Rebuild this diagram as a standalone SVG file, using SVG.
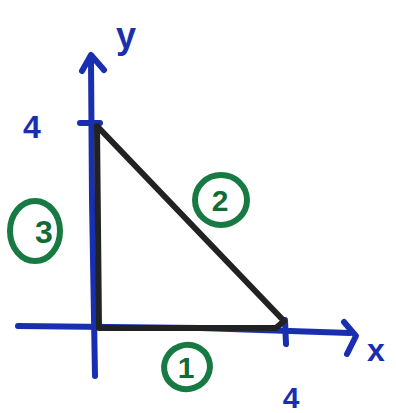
<svg xmlns="http://www.w3.org/2000/svg" width="396" height="413" viewBox="0 0 396 413">
<style>
.ax{fill:none;stroke:#1a2fb0;stroke-width:6;stroke-linecap:round;stroke-linejoin:round}
.tri{fill:none;stroke:#222;stroke-width:6;stroke-linecap:round;stroke-linejoin:round}
.ring{fill:none;stroke:#177a42;stroke-width:6}
.lb{font-family:"Liberation Sans",Arial,sans-serif;font-weight:bold;fill:#1a2fb0;text-anchor:middle}
.num{font-family:"Liberation Sans",Arial,sans-serif;font-weight:bold;fill:#126b36;text-anchor:middle}
</style>
<rect width="396" height="413" fill="#fff"/>
<g id="axes">
<path class="ax" d="M95 376 L92 200 L91 60"/>
<path class="ax" d="M82 71 L91 55 L104 70"/>
<path class="ax" d="M80 123 L100 123"/>
<path class="ax" d="M18 326 L200 328 L350 333"/>
<path class="ax" d="M344 322 L356 336 L347 354"/>
<path class="ax" d="M285 320 L286 344"/>
</g>
<g id="triangle">
<path class="tri" d="M97 126 L284 321 L276 328 L99 328 Z"/>
</g>
<g id="labels">
<text class="lb" x="126" y="48" font-size="36">y</text>
<text class="lb" x="32" y="138" font-size="32">4</text>
<text class="lb" x="376" y="361" font-size="32">x</text>
<text class="lb" x="291" y="408" font-size="30">4</text>
</g>
<g id="n1">
<ellipse class="ring" cx="187" cy="367" rx="23" ry="22" transform="rotate(-20 187 367)"/>
<text class="num" x="186" y="378" font-size="30">1</text>
</g>
<g id="n2">
<ellipse class="ring" cx="221" cy="200" rx="26" ry="25"/>
<text class="num" x="220" y="211" font-size="30">2</text>
</g>
<g id="n3">
<ellipse class="ring" cx="35" cy="231" rx="25" ry="30"/>
<text class="num" x="44" y="243" font-size="32">3</text>
</g>
</svg>
